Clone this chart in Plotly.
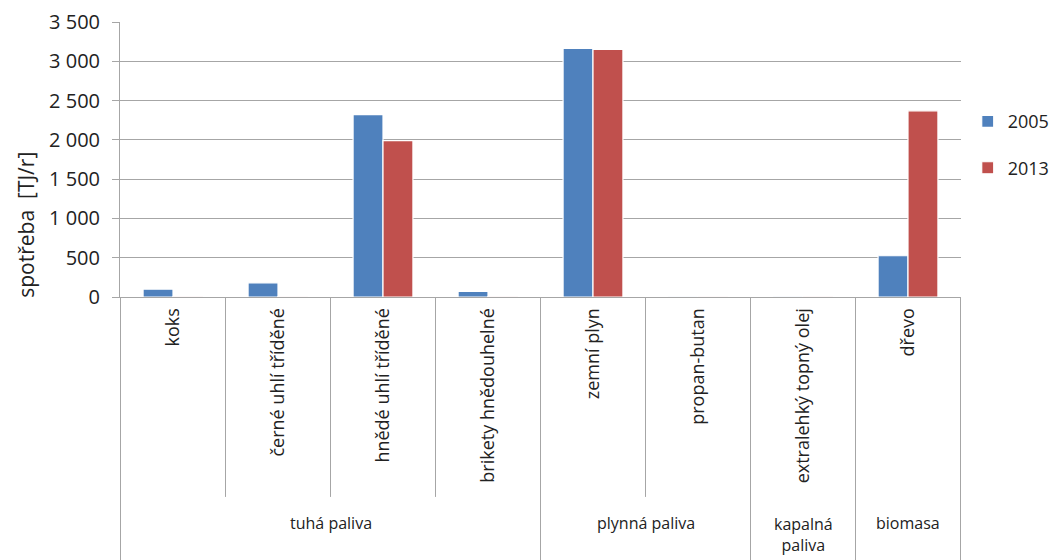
import plotly.graph_objects as go

categories = ["koks", "černé uhlí tříděné", "hnědé uhlí tříděné", "brikety hnědouhelné",
              "zemní plyn", "propan-butan", "extralehký topný olej", "dřevo"]
groups = ["tuhá paliva", "plynná paliva", "kapalná<br>paliva", "biomasa"]
group_sizes = [4, 2, 1, 1]
values_2005 = [100, 180, 2320, 70, 3165, 4, 3, 525]
values_2013 = [3, 4, 1990, 3, 3150, 4, 3, 2370]
series_names = ["2005", "2013"]
colors = ["#4F81BD", "#C0504D"]
yticks = [0, 500, 1000, 1500, 2000, 2500, 3000, 3500]

FONT = "Open Sans"
GRID = "#a6a6a6"
TXT = "#222"

fig = go.Figure()
for name, vals, col in zip(series_names, [values_2005, values_2013], colors):
    fig.add_trace(go.Bar(
        x=categories, y=vals, name=name,
        marker=dict(color=col, line=dict(color="white", width=1.2)),
        legendgroup=name,
    ))

shapes = []
n = len(categories)
group_bounds = []
acc = 0
for s in group_sizes:
    acc += s
    group_bounds.append(acc)
group_bounds = group_bounds[:-1]
for b in range(0, n + 1):
    if b in (0, n) or b in group_bounds:
        y1 = -0.96
    else:
        y1 = -0.727
    shapes.append(dict(type="line", xref="x", yref="paper", x0=b - 0.5, x1=b - 0.5,
                       y0=0, y1=y1, line=dict(color=GRID, width=1)))

annotations = []
start = 0
for g, s in zip(groups, group_sizes):
    center = start + (s - 1) / 2
    yy = -0.865 if "<br>" in g else -0.822
    annotations.append(dict(x=center, y=yy, xref="x", yref="paper", text=g, showarrow=False,
                            font=dict(family=FONT, size=16, color=TXT), yanchor="middle"))
    start += s

annotations.append(dict(x=-0.112, xref="paper", y=0.262, yref="paper", text="spotřeba  [TJ/r]",
                        textangle=-90, showarrow=False, xanchor="center", yanchor="middle",
                        font=dict(family=FONT, size=21, color=TXT)))

# page body has an 8px margin, so the figure is sized/offset to fill the 1064x560 window
fig.update_layout(
    width=1056, height=552,
    margin=dict(l=112, r=103, t=14, b=263, autoexpand=False),
    paper_bgcolor="white", plot_bgcolor="white",
    barmode="group", bargap=0.43, bargroupgap=0.0,
    separators=", ",
    font=dict(family=FONT, color=TXT),
    shapes=shapes, annotations=annotations,
    showlegend=True,
    legend=dict(x=1.008, y=0.705, xanchor="left", yanchor="top", tracegroupgap=20,
                font=dict(family=FONT, size=18, color=TXT), bgcolor="rgba(0,0,0,0)"),
    xaxis=dict(type="category", tickangle=-90, ticks="", showline=True, linecolor=GRID,
               linewidth=1, tickfont=dict(family=FONT, size=18, color=TXT),
               ticklabelstandoff=3, showgrid=False, automargin=False),
    yaxis=dict(range=[0, 3500], tickvals=yticks, separatethousands=True, showgrid=True,
               gridcolor=GRID, gridwidth=1, showline=True, linecolor=GRID, linewidth=1,
               ticks="outside", ticklen=7, tickcolor=GRID, zeroline=False,
               ticklabelstandoff=8, ticklabeloverflow="allow",
               tickfont=dict(family=FONT, size=20, color=TXT), automargin=False),
)

fig.write_html("out.html")
